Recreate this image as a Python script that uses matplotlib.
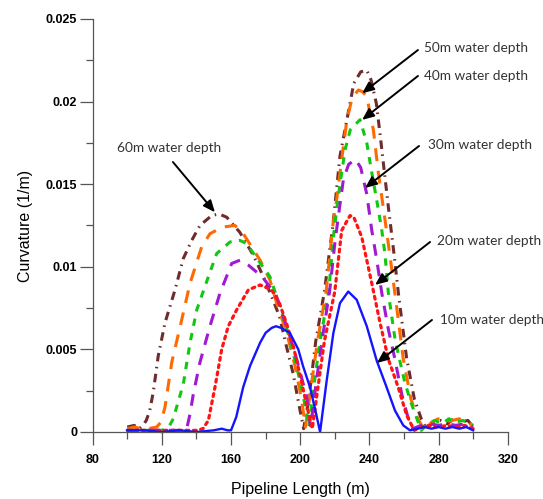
import numpy as np
import matplotlib
matplotlib.use("Agg")
import matplotlib.pyplot as plt
from matplotlib.ticker import MultipleLocator, FuncFormatter

# curvature along the pipeline for each water depth
x10 = [100, 110, 120, 130, 140, 150, 154.6, 158, 160, 163, 167, 171, 176.8, 180, 183.5, 186, 189, 194,
       198.9, 201.6, 205.7, 209, 211.5, 215.3, 219.2, 223, 227.8, 232.7, 238.5, 244.3, 250, 254.8, 259.6,
       263.5, 268, 272, 276, 280, 284, 288, 292, 296, 300]
y10 = [0.0001, 0.0001, 0.0000, 0.0001, 0.0000, 0.0001, 0.0002, 0.0001, 0.0001, 0.0009, 0.0027, 0.0040,
       0.0054, 0.0060, 0.0063, 0.0064, 0.0063, 0.0060, 0.0050, 0.0040, 0.0027, 0.0012, 0.0, 0.0031, 0.0060,
       0.0078, 0.0085, 0.0080, 0.0064, 0.0043, 0.0027, 0.0013, 0.0004, 0.0001, 0.0002, 0.0003, 0.0002,
       0.0003, 0.0002, 0.0003, 0.0002, 0.0003, 0.0001]

x20 = [100, 110, 120, 130, 140, 143.8, 146.9, 150.7, 154.6, 158.4, 163.3, 170, 176.8, 183.5, 188, 192, 196,
       200, 204, 207, 210, 214, 220, 224, 228.8, 231, 235.6, 238.5, 241.4, 246.2, 251, 256.7, 261.6, 266,
       270, 275, 280, 285, 290, 295, 300]
y20 = [0.0001, 0.0001, 0.0001, 0.0001, 0.0001, 0.0002, 0.0007, 0.0027, 0.0050, 0.0064, 0.0074, 0.0086,
       0.0089, 0.0086, 0.0078, 0.0066, 0.0052, 0.0034, 0.0015, 0.0002, 0.0025, 0.0055, 0.0085, 0.0122,
       0.0131, 0.0130, 0.0118, 0.0104, 0.0090, 0.0066, 0.0044, 0.0027, 0.0010, 0.0001, 0.0003, 0.0004,
       0.0003, 0.0004, 0.0003, 0.0004, 0.0002]

x30 = [100, 110, 120, 130, 134.4, 136.3, 138.2, 142, 147.8, 153.6, 160.4, 165.2, 170, 178, 186, 194, 198,
       203.8, 206, 209, 213, 217, 220, 222, 225, 228, 232, 235, 238.5, 241.4, 244.3, 247.2, 251, 254.8,
       258.7, 262, 265, 270, 275, 280, 285, 290, 295, 300]
y30 = [0.0001, 0.0001, 0.0001, 0.0001, 0.0002, 0.0011, 0.0023, 0.0042, 0.0064, 0.0084, 0.0102, 0.0104,
       0.0101, 0.0094, 0.0083, 0.0058, 0.0044, 0.0021, 0.0003, 0.0028, 0.0058, 0.0085, 0.0114, 0.0130,
       0.0153, 0.0162, 0.0165, 0.0160, 0.0144, 0.0122, 0.0104, 0.0084, 0.0062, 0.0044, 0.0023, 0.0010,
       0.0002, 0.0004, 0.0005, 0.0004, 0.0005, 0.0004, 0.0005, 0.0003]

x40 = [100, 110, 120, 122, 124.5, 126.6, 132.4, 136.3, 140.2, 146.9, 151.7, 159.4, 165, 169.1, 175, 182.5,
       188.3, 194, 199.9, 203.8, 205, 207.5, 211.5, 216.5, 219.2, 221, 223, 226, 229, 234.6, 238.5, 241.4,
       244.3, 247.2, 249, 251, 255, 260.5, 264, 267.5, 270, 274, 278, 282, 286, 290, 294, 298, 300]
y40 = [0.0001, 0.0001, 0.0001, 0.0002, 0.0004, 0.0008, 0.0029, 0.0054, 0.0074, 0.0094, 0.0108, 0.0115,
       0.0116, 0.0114, 0.0105, 0.0094, 0.0076, 0.0056, 0.0031, 0.0011, 0.0003, 0.0025, 0.0055, 0.0085,
       0.0118, 0.0134, 0.0150, 0.0171, 0.0183, 0.0189, 0.0175, 0.0157, 0.0140, 0.0122, 0.0108, 0.0084,
       0.0055, 0.0030, 0.0018, 0.0008, 0.0001, 0.0005, 0.0007, 0.0005, 0.0008, 0.0006, 0.0007, 0.0005, 0.0004]

x50 = [100, 104, 108, 112, 117, 119.5, 121.8, 125.7, 131.5, 136.3, 143, 147.8, 155, 162.3, 167.1, 176.8,
       182.5, 186.4, 192.2, 197, 200.9, 203, 206, 210, 215, 219, 221, 224, 227, 230, 233.6, 236, 238.5,
       242.3, 245.2, 249.1, 252, 255, 259.5, 264, 268, 272, 276, 280, 284, 288, 292, 296, 300]
y50 = [0.0002, 0.0003, 0.0002, 0.0002, 0.0003, 0.0006, 0.0015, 0.0042, 0.0068, 0.0090, 0.0112, 0.0120,
       0.0124, 0.0125, 0.0120, 0.0104, 0.0092, 0.0078, 0.0060, 0.0040, 0.0019, 0.0003, 0.0025, 0.0055,
       0.0085, 0.0126, 0.0140, 0.0165, 0.0189, 0.0202, 0.0207, 0.0206, 0.0203, 0.0183, 0.0157, 0.0128,
       0.0106, 0.0082, 0.0045, 0.0020, 0.0008, 0.0001, 0.0006, 0.0008, 0.0006, 0.0007, 0.0008, 0.0006, 0.0004]

x60 = [100, 104, 107, 109, 111, 113, 115, 117.9, 121.8, 124.7, 127.6, 132.4, 137.3, 142, 148.8, 153, 157.5,
       165, 172.9, 178.7, 183.5, 188, 192, 196, 199, 202, 205, 209, 214, 219, 223, 227, 231, 235, 238.5,
       241, 244, 246, 251, 254, 257, 261.5, 266, 270, 273, 277, 281, 285, 289, 293, 297, 300]
y60 = [0.0003, 0.0004, 0.0002, 0.0004, 0.0007, 0.0013, 0.0024, 0.0046, 0.0066, 0.0076, 0.0086, 0.0105,
       0.0116, 0.0125, 0.0131, 0.0132, 0.0130, 0.0121, 0.0107, 0.0094, 0.0082, 0.0070, 0.0052, 0.0035,
       0.0018, 0.0002, 0.0020, 0.0055, 0.0085, 0.0126, 0.0167, 0.0189, 0.0211, 0.0218, 0.0219, 0.0213,
       0.0199, 0.0182, 0.0136, 0.0110, 0.0082, 0.0045, 0.0020, 0.0008, 0.0002, 0.0006, 0.0007, 0.0005,
       0.0008, 0.0006, 0.0007, 0.0003]

# (text x, text y, arrow tail, arrow head) in data units
notes = {
    "60m water depth": ((94.0, 0.01719), (126.4, 0.01634), (150.7, 0.0133)),
    "50m water depth": ((271.6, 0.02324), (268.1, 0.02312), (235.8, 0.0205)),
    "40m water depth": ((271.6, 0.02155), (268.1, 0.02155), (235.8, 0.01889)),
    "30m water depth": ((273.9, 0.01737), (268.7, 0.01731), (237.5, 0.01477)),
    "20m water depth": ((279.1, 0.01156), (275.1, 0.0115), (243.3, 0.0089)),
    "10m water depth": ((280.9, 0.00678), (276.2, 0.00678), (244.4, 0.00418)),
}

fig = plt.figure(figsize=(5.43, 4.99), dpi=100)
ax = fig.add_axes([0.1707, 0.1343, 0.7643, 0.8277])

ax.plot(x60, y60, color="#6e2c2c", lw=2.2, dashes=(2.8, 1.8, 0.5, 1.8), clip_on=False)
ax.plot(x50, y50, color="#ff6a00", lw=2.2, dashes=(4.2, 3.2), clip_on=False)
ax.plot(x40, y40, color="#10c810", lw=2.2, dashes=(2.4, 2.4), clip_on=False)
ax.plot(x30, y30, color="#a01ad2", lw=2.2, dashes=(3.8, 3.0), clip_on=False)
ax.plot(x20, y20, color="#ff1414", lw=2.3, dashes=(0.9, 1.4), dash_capstyle="round", clip_on=False)
ax.plot(x10, y10, color="#1414ff", lw=1.7, clip_on=False)

for name, (txt, tail, head) in notes.items():
    ax.annotate("", xy=head, xytext=tail,
                arrowprops=dict(arrowstyle="-|>,head_length=0.7,head_width=0.3",
                                color="black", lw=1.4, shrinkA=0, shrinkB=0,
                                mutation_scale=10))
    ax.text(txt[0], txt[1], name, ha="left", va="center", fontsize=9.8,
            family="Lato", color="#333333", clip_on=False)

ax.set_xlim(80, 320)
ax.set_ylim(0, 0.025)
ax.xaxis.set_major_locator(MultipleLocator(40))
ax.xaxis.set_minor_locator(MultipleLocator(20))
ax.yaxis.set_major_locator(MultipleLocator(0.005))
ax.yaxis.set_minor_locator(MultipleLocator(0.0025))
ax.yaxis.set_major_formatter(FuncFormatter(lambda v, p: "%g" % round(v, 4)))

for s in ["top", "right"]:
    ax.spines[s].set_visible(False)
for s in ["left", "bottom"]:
    ax.spines[s].set_color("#555555")
    ax.spines[s].set_linewidth(0.9)

ax.tick_params(which="major", length=9.6, width=0.9, color="#555555")
ax.tick_params(which="minor", length=4.8, width=0.9, color="#555555")
ax.tick_params(axis="x", which="major", pad=6)
ax.tick_params(axis="y", which="major", pad=1.5)
for lab in ax.get_xticklabels() + ax.get_yticklabels():
    lab.set_fontweight("bold")
    lab.set_fontsize(9)
    lab.set_family("Liberation Sans")

ax.set_xlabel("Pipeline Length (m)", fontsize=11.5, family="Liberation Sans")
ax.set_ylabel("Curvature (1/m)", fontsize=11.5, family="Liberation Sans")
ax.xaxis.set_label_coords(0.5, -0.12)
ax.yaxis.set_label_coords(-0.145, 0.5)

fig.savefig("out.png", dpi=100)
